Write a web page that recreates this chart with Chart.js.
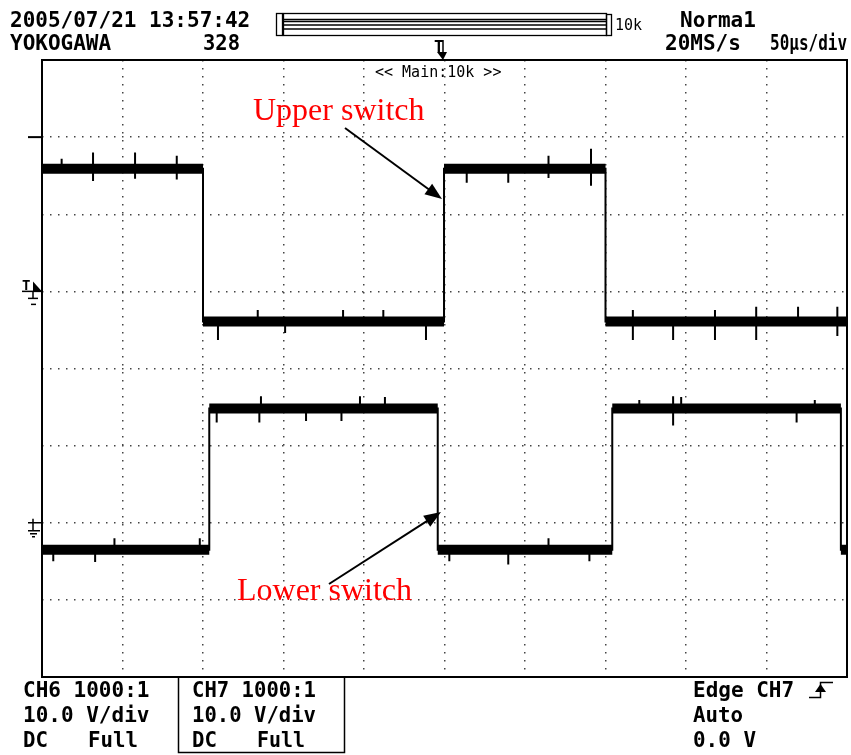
<!DOCTYPE html>
<html>
<head>
<meta charset="utf-8">
<script src="https://cdn.jsdelivr.net/npm/chart.js@4/dist/chart.umd.min.js"></script>
<style>
  html, body { margin: 0; padding: 0; background: #fff; }
  canvas { display: block; }
</style>
</head>
<body>
<canvas id="scope" width="851" height="755"></canvas>
<script>
// time base 50 us/div, 10 divisions; 10 V/div, 8 divisions
const timeRange = [0, 500];
const divRange = [-4, 4];

// channel 6 (upper switch): time where each level starts (us) and level (V)
const ch6EdgeTimes = [0, 100.0, 249.7, 350.0];
const ch6Levels = [15.9, -3.9, 15.9, -3.9];
const ch6Ground = 1.0; // divisions

// channel 7 (lower switch)
const ch7EdgeTimes = [0, 103.9, 245.8, 354.2, 496.2];
const ch7Levels = [-3.5, 14.8, -3.5, 14.8, -3.5];
const ch7Ground = -2.0;

// noise spikes: time (us), top (V), bottom (V)
const ch6SpikeTimes = [12.2, 31.7, 57.8, 83.7, 109.3, 134, 151, 187, 212, 238.5, 263.8, 289.6, 314.6, 341, 367, 392, 418, 443.6, 469.6, 494];
const ch6SpikeTop = [17.2, 18.0, 18.0, 17.6, -3.9, -2.4, -3.9, -2.4, -2.4, -3.9, 15.9, 15.9, 17.6, 18.5, -2.4, -3.9, -2.4, -2.0, -2.0, -2.0];
const ch6SpikeBottom = [15.9, 14.3, 14.6, 14.5, -6.3, -3.9, -5.4, -3.9, -3.9, -6.3, 14.1, 14.1, 14.7, 13.7, -6.3, -6.3, -6.3, -6.3, -3.9, -5.8];

const ch7SpikeTimes = [7, 33, 45, 98, 108.5, 135, 136, 164, 186, 197.5, 213, 253, 289.6, 314.6, 340, 371, 392, 397, 468.7, 480];
const ch7SpikeTop = [-3.5, -3.5, -2.0, -2.0, 14.8, 14.8, 16.4, 14.8, 14.8, 16.4, 16.3, -3.5, -3.5, -2.0, -3.5, 15.9, 16.4, 16.3, 14.8, 15.9];
const ch7SpikeBottom = [-5.0, -5.1, -3.5, -3.5, 13.0, 13.0, 14.8, 13.2, 13.2, 14.8, 14.8, -5.0, -5.4, -3.5, -5.0, 14.8, 12.6, 14.8, 13.0, 14.8];

const voltsPerDiv = 10;

function toDiv(v, ground) {
  return ground + v / voltsPerDiv;
}

function stepPoints(times, levels, ground) {
  const pts = times.map((t, i) => ({ x: t, y: toDiv(levels[i], ground) }));
  pts.push({ x: timeRange[1], y: toDiv(levels[levels.length - 1], ground) });
  return pts;
}

function bandPoints(times, levels, ground) {
  const pts = [];
  times.forEach((t, i) => {
    const end = i < times.length - 1 ? times[i + 1] : timeRange[1];
    const y = toDiv(levels[i], ground);
    pts.push({ x: t, y: y }, { x: end, y: y }, { x: end, y: null });
  });
  return pts;
}

function spikePoints(times, tops, bottoms, ground) {
  const pts = [];
  times.forEach((t, i) => {
    pts.push({ x: t, y: toDiv(tops[i], ground) }, { x: t, y: toDiv(bottoms[i], ground) }, { x: t, y: null });
  });
  return pts;
}

const MONO = '"DejaVu Sans Mono", "Liberation Mono", monospace';

function arrow(ctx, x1, y1, x2, y2) {
  const ang = Math.atan2(y2 - y1, x2 - x1);
  const len = 17, half = 6.5;
  ctx.beginPath();
  ctx.moveTo(x1, y1);
  ctx.lineTo(x2 - Math.cos(ang) * len * 0.8, y2 - Math.sin(ang) * len * 0.8);
  ctx.lineWidth = 2;
  ctx.strokeStyle = '#000';
  ctx.stroke();
  ctx.beginPath();
  ctx.moveTo(x2, y2);
  ctx.lineTo(x2 - Math.cos(ang) * len - Math.sin(ang) * half, y2 - Math.sin(ang) * len + Math.cos(ang) * half);
  ctx.lineTo(x2 - Math.cos(ang) * len + Math.sin(ang) * half, y2 - Math.sin(ang) * len - Math.cos(ang) * half);
  ctx.closePath();
  ctx.fillStyle = '#000';
  ctx.fill();
}

const scopeFrame = {
  id: 'scopeFrame',
  beforeDraw(chart) {
    const ctx = chart.ctx;
    ctx.save();
    ctx.fillStyle = '#fff';
    ctx.fillRect(0, 0, chart.width, chart.height);
    ctx.restore();
  },
  afterDraw(chart) {
    const ctx = chart.ctx;
    const a = chart.chartArea;
    const ys = chart.scales.y;
    ctx.save();

    // screen frame
    ctx.strokeStyle = '#000';
    ctx.lineWidth = 2;
    ctx.strokeRect(a.left, a.top, a.right - a.left, a.bottom - a.top);

    // header texts
    ctx.fillStyle = '#000';
    ctx.textBaseline = 'alphabetic';
    ctx.font = 'bold 21px ' + MONO;
    ctx.fillText('2005/07/21 13:57:42', 10, 27, 245);
    ctx.fillText('YOKOGAWA', 10, 50, 103);
    ctx.fillText('328', 203, 50, 37);
    ctx.fillText('Norma1', 680, 27, 77);
    ctx.fillText('20MS/s', 665, 50, 80);
    ctx.fillText('50\u00b5s/div', 770, 50, 77);

    // record length bar
    ctx.lineWidth = 1.3;
    ctx.strokeRect(276.5, 13.5, 6, 22);
    ctx.strokeRect(283.5, 13.5, 323, 22);
    ctx.strokeRect(606.5, 14.5, 5, 21);
    [19.5, 21.5, 25, 29].forEach(y => {
      ctx.beginPath();
      ctx.moveTo(283.5, y);
      ctx.lineTo(606.5, y);
      ctx.stroke();
    });
    ctx.font = '15px ' + MONO;
    ctx.fillText('10k', 615, 30, 28);

    // trigger position marker
    ctx.font = 'bold 16px ' + MONO;
    ctx.fillText('T', 434, 52);
    ctx.lineWidth = 1.5;
    ctx.beginPath();
    ctx.moveTo(443, 40);
    ctx.lineTo(443, 54);
    ctx.stroke();
    ctx.beginPath();
    ctx.moveTo(437, 52);
    ctx.lineTo(447, 52);
    ctx.lineTo(443, 60);
    ctx.closePath();
    ctx.fill();

    ctx.font = '15px ' + MONO;
    ctx.fillText('<< Main:10k >>', 375, 77, 137);

    // channel markers on the left edge
    const y3 = ys.getPixelForValue(3);
    ctx.lineWidth = 2;
    ctx.beginPath();
    ctx.moveTo(28, y3);
    ctx.lineTo(a.left, y3);
    ctx.stroke();

    const g6 = ys.getPixelForValue(ch6Ground);
    ctx.font = 'bold 14px ' + MONO;
    ctx.fillText('T', 22, g6 - 1);
    ctx.beginPath();
    ctx.moveTo(33, g6 - 10);
    ctx.lineTo(42, g6);
    ctx.lineTo(33, g6);
    ctx.closePath();
    ctx.fill();
    ctx.lineWidth = 1.5;
    [[22, 42, 0], [28, 38, 7], [31, 36, 13]].forEach(s => {
      ctx.beginPath();
      ctx.moveTo(s[0], g6 + s[2]);
      ctx.lineTo(s[1], g6 + s[2]);
      ctx.stroke();
    });
    ctx.beginPath();
    ctx.moveTo(33, g6);
    ctx.lineTo(33, g6 + 7);
    ctx.stroke();

    const g7 = ys.getPixelForValue(ch7Ground);
    [[28, 42, 0], [28, 40, 8], [30, 37, 11], [32, 35, 14]].forEach(s => {
      ctx.beginPath();
      ctx.moveTo(s[0], g7 + s[2]);
      ctx.lineTo(s[1], g7 + s[2]);
      ctx.stroke();
    });
    ctx.beginPath();
    ctx.moveTo(33, g7 - 4);
    ctx.lineTo(33, g7 + 8);
    ctx.stroke();

    // bottom status area
    ctx.font = 'bold 21px ' + MONO;
    ctx.fillText('CH6 1000:1', 23, 697, 127);
    ctx.fillText('10.0 V/div', 23, 722, 127);
    ctx.fillText('DC', 23, 747, 25);
    ctx.fillText('Full', 88, 747, 50);

    ctx.fillText('CH7 1000:1', 192, 697, 124);
    ctx.fillText('10.0 V/div', 192, 722, 124);
    ctx.fillText('DC', 192, 747, 25);
    ctx.fillText('Full', 257, 747, 48);

    ctx.lineWidth = 1.5;
    ctx.beginPath();
    ctx.moveTo(178.5, a.bottom);
    ctx.lineTo(178.5, 752.5);
    ctx.lineTo(344.5, 752.5);
    ctx.lineTo(344.5, a.bottom);
    ctx.stroke();

    ctx.fillText('Edge CH7', 693, 697, 107);
    ctx.fillText('Auto', 693, 722, 50);
    ctx.fillText('0.0 V', 693, 747, 63);

    // rising edge symbol
    ctx.lineWidth = 1.5;
    ctx.beginPath();
    ctx.moveTo(809, 697.5);
    ctx.lineTo(820.5, 697.5);
    ctx.lineTo(820.5, 682.5);
    ctx.lineTo(833, 682.5);
    ctx.stroke();
    ctx.beginPath();
    ctx.moveTo(820.5, 684);
    ctx.lineTo(815, 692);
    ctx.lineTo(826, 692);
    ctx.closePath();
    ctx.fill();

    // annotations
    ctx.fillStyle = '#ff0000';
    ctx.font = '32px "Liberation Serif", "Times New Roman", serif';
    ctx.fillText('Upper switch', 253, 120);
    ctx.fillText('Lower switch', 237, 600);
    arrow(ctx, 345, 128, 442, 199);
    arrow(ctx, 329, 584, 441, 512);

    ctx.restore();
  }
};

const ctx = document.getElementById('scope').getContext('2d');
new Chart(ctx, {
  type: 'line',
  data: {
    datasets: [
      { label: 'CH6', data: stepPoints(ch6EdgeTimes, ch6Levels, ch6Ground), stepped: 'before', borderColor: '#000', borderWidth: 2, pointRadius: 0 },
      { label: 'CH6 band', data: bandPoints(ch6EdgeTimes, ch6Levels, ch6Ground), borderColor: '#000', borderWidth: 10, borderCapStyle: 'butt', pointRadius: 0, spanGaps: false },
      { label: 'CH6 spikes', data: spikePoints(ch6SpikeTimes, ch6SpikeTop, ch6SpikeBottom, ch6Ground), borderColor: '#000', borderWidth: 2, pointRadius: 0, spanGaps: false },
      { label: 'CH7', data: stepPoints(ch7EdgeTimes, ch7Levels, ch7Ground), stepped: 'before', borderColor: '#000', borderWidth: 2, pointRadius: 0 },
      { label: 'CH7 band', data: bandPoints(ch7EdgeTimes, ch7Levels, ch7Ground), borderColor: '#000', borderWidth: 10, borderCapStyle: 'butt', pointRadius: 0, spanGaps: false },
      { label: 'CH7 spikes', data: spikePoints(ch7SpikeTimes, ch7SpikeTop, ch7SpikeBottom, ch7Ground), borderColor: '#000', borderWidth: 2, pointRadius: 0, spanGaps: false }
    ]
  },
  options: {
    responsive: false,
    animation: false,
    events: [],
    layout: { padding: { left: 42, top: 60, right: 4, bottom: 78 } },
    plugins: { legend: { display: false }, tooltip: { enabled: false } },
    scales: {
      x: {
        type: 'linear', min: timeRange[0], max: timeRange[1],
        ticks: { display: false, stepSize: 50 },
        grid: { color: '#444', lineWidth: 1.5, drawTicks: false },
        border: { display: false, dash: [1.5, 6.5] }
      },
      y: {
        type: 'linear', min: divRange[0], max: divRange[1],
        ticks: { display: false, stepSize: 1 },
        grid: { color: '#444', lineWidth: 1.5, drawTicks: false },
        border: { display: false, dash: [1.5, 6.5] }
      }
    }
  },
  plugins: [scopeFrame]
});
</script>
</body>
</html>
